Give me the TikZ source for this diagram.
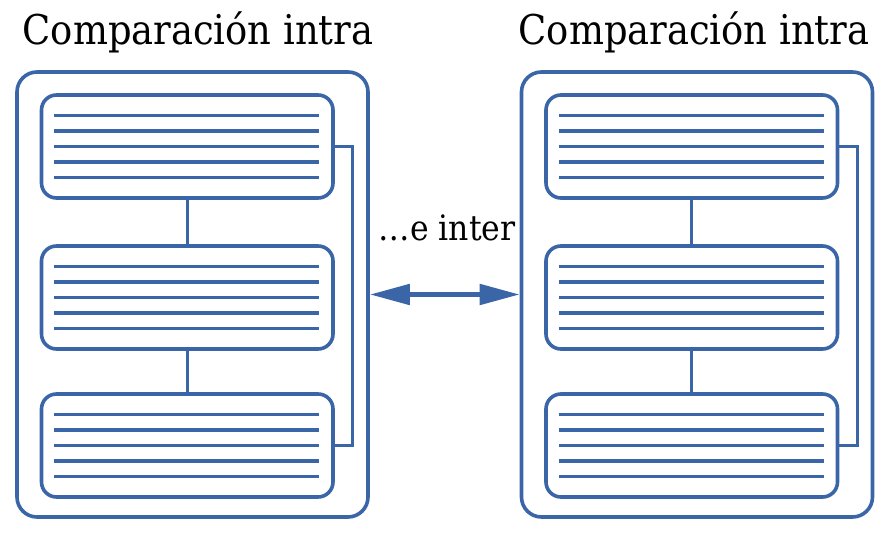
\documentclass[tikz,border=0pt]{standalone}
\usepackage{fontspec}
\setmainfont{DejaVu Serif Condensed}
\usetikzlibrary{arrows.meta,calc}
\definecolor{bl}{HTML}{3A65A6}
\begin{document}
\begin{tikzpicture}[x=1pt,y=-1pt,
  panel/.style={draw=bl,line width=3.6pt,rounded corners=20pt,minimum width=351pt,minimum height=445pt,inner sep=0pt},
  item/.style={draw=bl,line width=3.6pt,rounded corners=15pt,minimum width=291.5pt,minimum height=103pt,inner sep=0pt},
  conn/.style={draw=bl,line width=3pt},
  rule/.style={draw=bl,line width=3.6pt},
  title/.style={font=\fontsize{41}{43}\selectfont,anchor=base,inner sep=0pt},
  midlabel/.style={font=\fontsize{35}{37}\selectfont,anchor=base,inner sep=0pt}]
\useasboundingbox (0,0) rectangle (888,534);
\newcommand\rules[1]{%
  \foreach \dy in {-31,-15.5,0,15.5,31}{\draw[rule] ($(#1.center)+(-133,\dy)$) -- ($(#1.center)+(132,\dy)$);}}
% left panel
\node[panel] (L) at (192.5,294.5) {};
\node[item] (l1) at (187.25,146.5) {};
\node[item] (l2) at (187.25,297.5) {};
\node[item] (l3) at (187.25,445.5) {};
\rules{l1}\rules{l2}\rules{l3}
\draw[conn] (l1.south) -- (l2.north);
\draw[conn] (l2.south) -- (l3.north);
\draw[conn] (l1.east) -- ++(18,0) |- (l3.east);
% right panel
\node[panel] (R) at (697,294.5) {};
\node[item] (r1) at (691.75,146.5) {};
\node[item] (r2) at (691.75,297.5) {};
\node[item] (r3) at (691.75,445.5) {};
\rules{r1}\rules{r2}\rules{r3}
\draw[conn] (r1.south) -- (r2.north);
\draw[conn] (r2.south) -- (r3.north);
\draw[conn] (r1.east) -- ++(18,0) |- (r3.east);
% titles
\node[title] (tl) at (198,45) {Comparación intra};
\node[title] (tr) at (694,45) {Comparación intra};
\node[midlabel] (mid) at (447,241) {…e inter};
% arrow
\draw[draw=bl,line width=5pt,{Triangle[length=40pt,width=20pt]}-{Triangle[length=40pt,width=20pt]}] (L.east) -- (R.west);
\end{tikzpicture}
\end{document}
